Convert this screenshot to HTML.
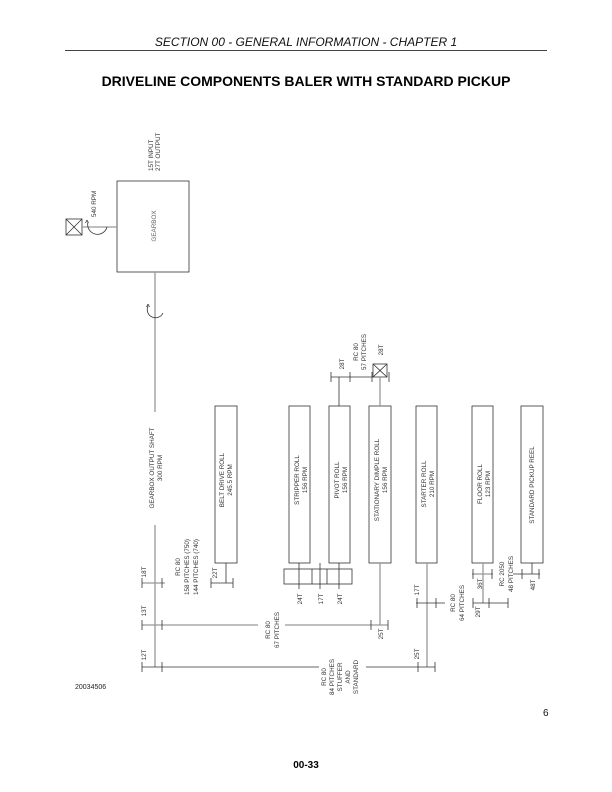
<!DOCTYPE html>
<html><head><meta charset="utf-8"><style>
html,body{margin:0;padding:0;background:#fff;}
svg{display:block;}
text{font-family:"Liberation Sans",Arial,sans-serif;}
.s{font-size:6.3px;fill:#333;}
</style></head><body>
<svg width="612" height="792" viewBox="0 0 612 792" xmlns="http://www.w3.org/2000/svg">
<text x="306" y="46" text-anchor="middle" font-size="12" font-style="italic" fill="#111">SECTION 00 - GENERAL INFORMATION - CHAPTER 1</text>
<line x1="65" y1="50.5" x2="547" y2="50.5" stroke="#444" stroke-width="1"/>
<text x="306" y="86" text-anchor="middle" font-size="14" font-weight="bold" fill="#000">DRIVELINE COMPONENTS BALER WITH STANDARD PICKUP</text>

<g fill="none" stroke="#333" stroke-width="0.8">
<rect x="117" y="181" width="72" height="91"/>
<rect x="66" y="219" width="16" height="16"/>
<line x1="66" y1="219" x2="82" y2="235"/><line x1="82" y1="219" x2="66" y2="235"/>
<rect x="215" y="406" width="22" height="157"/>
<rect x="289" y="406" width="21" height="157"/>
<rect x="329" y="406" width="21" height="157"/>
<rect x="369" y="406" width="22" height="157"/>
<rect x="416" y="406" width="21" height="157"/>
<rect x="472" y="406" width="21" height="157"/>
<rect x="521" y="406" width="22" height="157"/>
<rect x="284" y="569" width="68" height="15"/>
<line x1="312" y1="569" x2="312" y2="584"/><line x1="327" y1="569" x2="327" y2="584"/>
<rect x="373" y="364" width="14" height="13"/>
<line x1="373" y1="364" x2="387" y2="377"/><line x1="387" y1="364" x2="373" y2="377"/>
</g>

<g fill="none" stroke="#999" stroke-width="1.3">
<line x1="82" y1="227" x2="117" y2="227"/>
<line x1="155" y1="272" x2="155" y2="412"/>
<line x1="155" y1="525" x2="155" y2="667"/>
<line x1="142" y1="583" x2="165" y2="583"/>
<line x1="142" y1="625" x2="258" y2="625"/>
<line x1="285" y1="625" x2="388" y2="625"/>
<line x1="380" y1="377" x2="380" y2="406"/>
<line x1="380" y1="563" x2="380" y2="625"/>
<line x1="427" y1="563" x2="427" y2="667"/>
<line x1="483" y1="563" x2="483" y2="603"/>
<line x1="472" y1="574" x2="493" y2="574"/>
</g>
<g fill="none" stroke="#333" stroke-width="0.8">
<line x1="226" y1="563" x2="226" y2="583"/>
<line x1="211" y1="583" x2="233" y2="583"/>
<line x1="142" y1="667" x2="319" y2="667"/>
<line x1="366" y1="667" x2="435" y2="667"/>
<line x1="416" y1="603" x2="445" y2="603"/>
<line x1="473" y1="603" x2="508" y2="603"/>
<line x1="513" y1="574" x2="540" y2="574"/>
<line x1="532" y1="563" x2="532" y2="574"/>
<line x1="299" y1="563" x2="299" y2="589"/>
<line x1="320" y1="563" x2="320" y2="589"/>
<line x1="339" y1="563" x2="339" y2="589"/>
<line x1="339" y1="377" x2="339" y2="406"/>
<line x1="331" y1="377" x2="373" y2="377"/>
<path d="M142 578V588M162 578V588M142 620V630M162 620V630M142 662V672M162 662V672M211 578V588M233 578V588M371 620V630M388 620V630M418 662V672M435 662V672M417 598V608M436 598V608M473 598V608M489 598V608M508 598V608M473 569V579M492 569V579M522 569V579M539 569V579M331 372V382M350 372V382M372 372V382M389 372V382"/>
<path d="M88 222 A9 9 0 0 0 107 227"/>
<path d="M87 220 l-1.5 3 M87 220 l1.5 3"/>
<path d="M148 306 A8 8 0 0 0 163 313"/>
<path d="M148 304 l-1.5 3 M148 304 l1.5 3"/>
</g>

<g class="s">
<text transform="translate(153,171) rotate(-90)">15T INPUT</text>
<text transform="translate(160,171) rotate(-90)">27T OUTPUT</text>
<text transform="translate(96,217) rotate(-90)">540 RPM</text>
<text transform="translate(156,226) rotate(-90)" text-anchor="middle" fill="#666">GEARBOX</text>
<text transform="translate(154,468) rotate(-90)" text-anchor="middle">GEARBOX OUTPUT SHAFT</text>
<text transform="translate(162,468) rotate(-90)" text-anchor="middle">300 RPM</text>
<text transform="translate(224,480) rotate(-90)" text-anchor="middle">BELT DRIVE ROLL</text>
<text transform="translate(232,480) rotate(-90)" text-anchor="middle">245.5 RPM</text>
<text transform="translate(299,480) rotate(-90)" text-anchor="middle">STRIPPER ROLL</text>
<text transform="translate(307,480) rotate(-90)" text-anchor="middle">156 RPM</text>
<text transform="translate(339,480) rotate(-90)" text-anchor="middle">PIVOT ROLL</text>
<text transform="translate(347,480) rotate(-90)" text-anchor="middle">156 RPM</text>
<text transform="translate(379,480) rotate(-90)" text-anchor="middle">STATIONARY DIMPLE ROLL</text>
<text transform="translate(387,480) rotate(-90)" text-anchor="middle">156 RPM</text>
<text transform="translate(426,484) rotate(-90)" text-anchor="middle">STARTER ROLL</text>
<text transform="translate(434,484) rotate(-90)" text-anchor="middle">210 RPM</text>
<text transform="translate(482,484) rotate(-90)" text-anchor="middle">FLOOR ROLL</text>
<text transform="translate(490,484) rotate(-90)" text-anchor="middle">123 RPM</text>
<text transform="translate(534,485) rotate(-90)" text-anchor="middle">STANDARD PICKUP REEL</text>

<text transform="translate(146,572) rotate(-90)" text-anchor="middle">18T</text>
<text transform="translate(146,611) rotate(-90)" text-anchor="middle">13T</text>
<text transform="translate(146,655) rotate(-90)" text-anchor="middle">12T</text>
<text transform="translate(180,567) rotate(-90)" text-anchor="middle">RC 80</text>
<text transform="translate(189,567) rotate(-90)" text-anchor="middle">158 PITCHES (750)</text>
<text transform="translate(198,567) rotate(-90)" text-anchor="middle">144 PITCHES (740)</text>
<text transform="translate(217,573) rotate(-90)" text-anchor="middle">22T</text>
<text transform="translate(270,630) rotate(-90)" text-anchor="middle">RC 80</text>
<text transform="translate(279,630) rotate(-90)" text-anchor="middle">67 PITCHES</text>
<text transform="translate(326,677) rotate(-90)" text-anchor="middle">RC 80</text>
<text transform="translate(334,677) rotate(-90)" text-anchor="middle">84 PITCHES</text>
<text transform="translate(342,677) rotate(-90)" text-anchor="middle">STUFFER</text>
<text transform="translate(350,677) rotate(-90)" text-anchor="middle">AND</text>
<text transform="translate(358,677) rotate(-90)" text-anchor="middle">STANDARD</text>
<text transform="translate(302,599) rotate(-90)" text-anchor="middle">24T</text>
<text transform="translate(323,599) rotate(-90)" text-anchor="middle">17T</text>
<text transform="translate(342,599) rotate(-90)" text-anchor="middle">24T</text>
<text transform="translate(383,634) rotate(-90)" text-anchor="middle">25T</text>
<text transform="translate(419,654) rotate(-90)" text-anchor="middle">25T</text>
<text transform="translate(419,590) rotate(-90)" text-anchor="middle">17T</text>
<text transform="translate(455,603) rotate(-90)" text-anchor="middle">RC 80</text>
<text transform="translate(464,603) rotate(-90)" text-anchor="middle">64 PITCHES</text>
<text transform="translate(482,584) rotate(-90)" text-anchor="middle">36T</text>
<text transform="translate(480,612) rotate(-90)" text-anchor="middle">29T</text>
<text transform="translate(504,574) rotate(-90)" text-anchor="middle">RC 2050</text>
<text transform="translate(513,574) rotate(-90)" text-anchor="middle">48 PITCHES</text>
<text transform="translate(535,585) rotate(-90)" text-anchor="middle">48T</text>
<text transform="translate(344,364) rotate(-90)" text-anchor="middle">28T</text>
<text transform="translate(358,352) rotate(-90)" text-anchor="middle">RC 80</text>
<text transform="translate(366,352) rotate(-90)" text-anchor="middle">57 PITCHES</text>
<text transform="translate(383,350) rotate(-90)" text-anchor="middle">28T</text>
</g>

<text x="75" y="689" font-size="7" fill="#222">20034506</text>
<text x="543" y="716" font-size="10" fill="#111">6</text>
<text x="306" y="768" text-anchor="middle" font-size="10" font-weight="bold" fill="#000">00-33</text>
</svg>
</body></html>
